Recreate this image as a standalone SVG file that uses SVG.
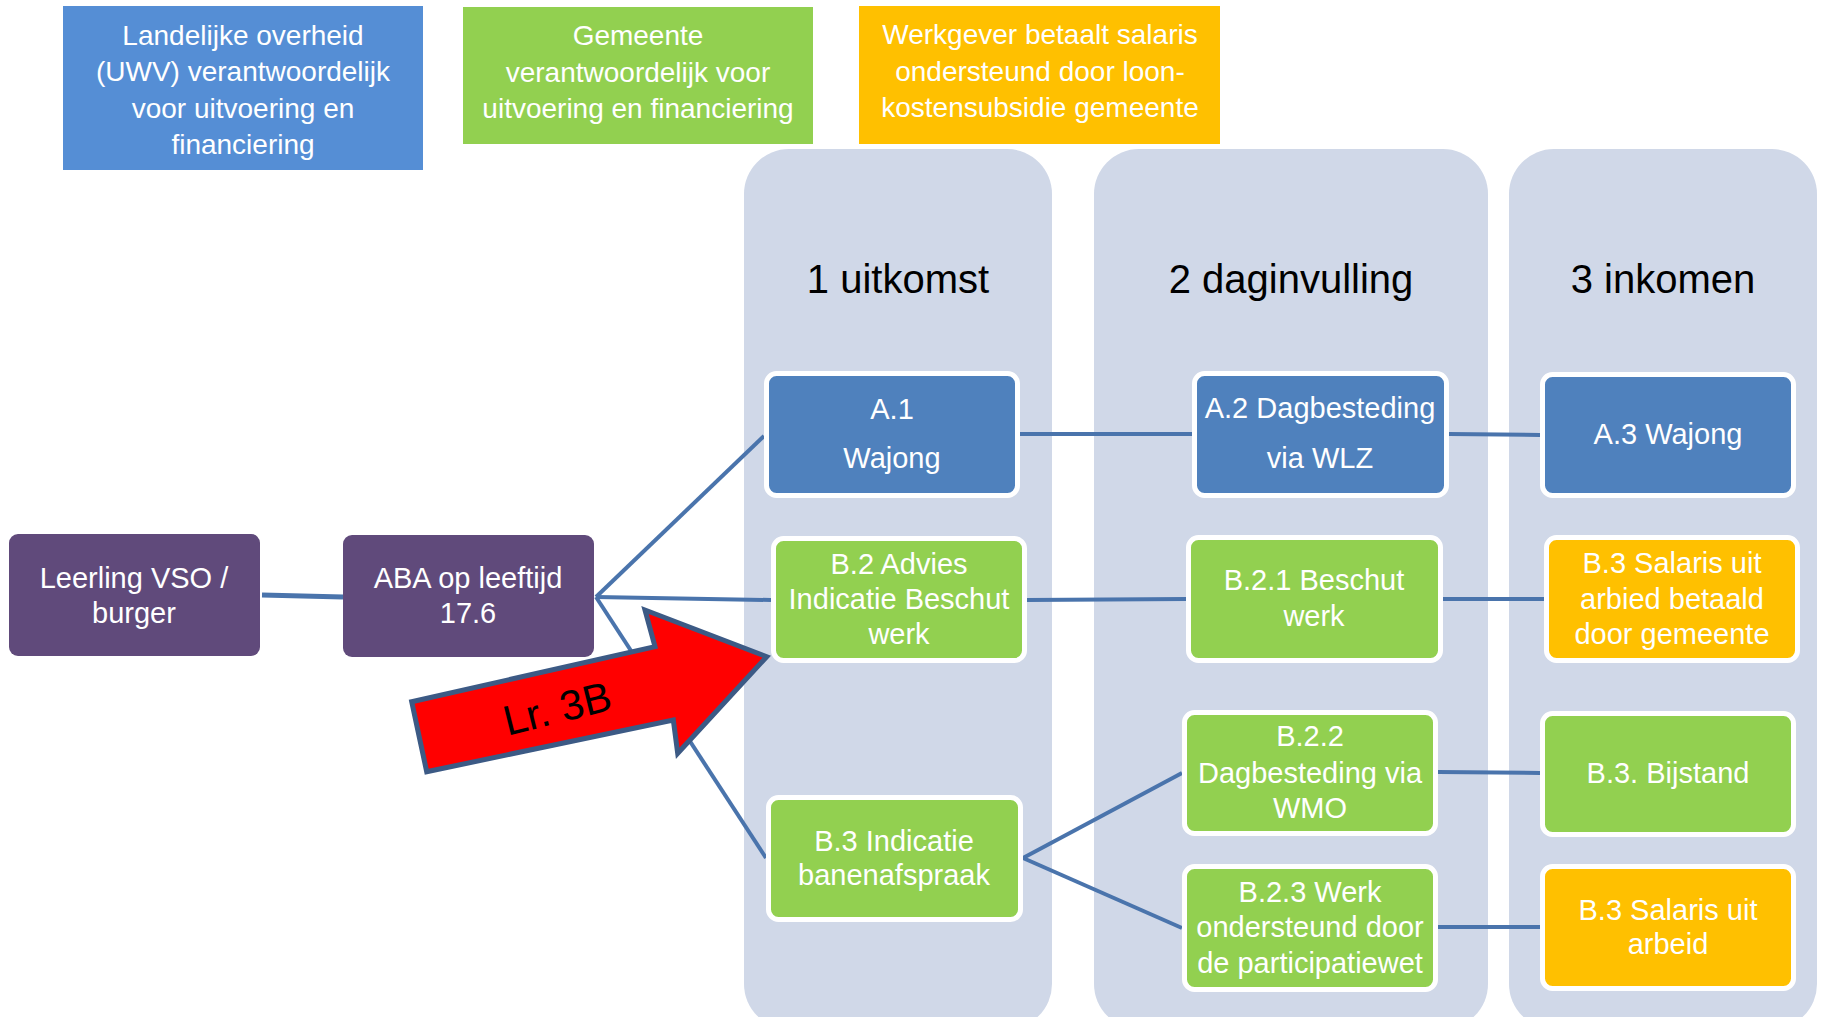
<svg xmlns="http://www.w3.org/2000/svg" width="1823" height="1017" viewBox="0 0 1823 1017">
<style>
text{font-family:"Liberation Sans",Arial,sans-serif;text-anchor:middle}
.lg{font-size:28px;fill:#fff}
.nt{font-size:29px;fill:#fff}
.hd{font-size:40px;fill:#000}
.lane{fill:#D0D8E8}
.blue{fill:#4F81BD;stroke:#fff;stroke-width:5}
.green{fill:#92D050;stroke:#fff;stroke-width:5}
.orange{fill:#FFC000;stroke:#fff;stroke-width:5}
.purple{fill:#604A7B}
.con line{stroke:#4A74AC;stroke-width:4;fill:none}
</style>
<rect width="1823" height="1017" fill="#fff"/>
<g id="legend-uwv"><rect x="63" y="6" width="360" height="164" fill="#558ED5"/>
<text class="lg" x="243" y="45">Landelijke overheid</text><text class="lg" x="243" y="81">(UWV) verantwoordelijk</text><text class="lg" x="243" y="118">voor uitvoering en</text><text class="lg" x="243" y="154">financiering</text></g>
<g id="legend-gemeente"><rect x="463" y="7" width="350" height="137" fill="#92D050"/>
<text class="lg" x="638" y="45">Gemeente</text><text class="lg" x="638" y="82">verantwoordelijk voor</text><text class="lg" x="638" y="118">uitvoering en financiering</text></g>
<g id="legend-werkgever"><rect x="859" y="6" width="361" height="138" fill="#FFC000"/>
<text class="lg" x="1040" y="44">Werkgever betaalt salaris</text><text class="lg" x="1040" y="81">ondersteund door loon-</text><text class="lg" x="1040" y="117">kostensubsidie gemeente</text></g>
<g id="lane-1"><rect class="lane" x="744" y="149" width="308" height="880" rx="45"/><text class="hd" x="898" y="293">1 uitkomst</text></g>
<g id="lane-2"><rect class="lane" x="1094" y="149" width="394" height="880" rx="45"/><text class="hd" x="1291" y="293">2 daginvulling</text></g>
<g id="lane-3"><rect class="lane" x="1509" y="149" width="308" height="880" rx="45"/><text class="hd" x="1663" y="293">3 inkomen</text></g>
<g id="connectors" class="con">
<line x1="262" y1="595" x2="343" y2="597" style="stroke-width:5"/>
<line x1="596" y1="597" x2="764" y2="436"/>
<line x1="596" y1="597" x2="771" y2="600"/>
<line x1="596" y1="597" x2="766" y2="858"/>
<line x1="1020" y1="434" x2="1192" y2="434"/>
<line x1="1449" y1="434" x2="1540" y2="435"/>
<line x1="1027" y1="600" x2="1186" y2="599"/>
<line x1="1443" y1="599" x2="1544" y2="599"/>
<line x1="1023" y1="858" x2="1182" y2="773"/>
<line x1="1023" y1="858" x2="1182" y2="928"/>
<line x1="1438" y1="772" x2="1540" y2="773"/>
<line x1="1438" y1="927" x2="1540" y2="927"/>
</g>
<g id="leerling"><rect class="purple" x="9" y="534" width="251" height="122" rx="9"/><text class="nt" x="134" y="588">Leerling VSO /</text><text class="nt" x="134" y="623">burger</text></g>
<g id="aba"><rect class="purple" x="343" y="535" width="251" height="122" rx="9"/><text class="nt" x="468" y="588">ABA op leeftijd</text><text class="nt" x="468" y="623">17.6</text></g>
<g id="a1"><rect class="blue" x="766.5" y="373.5" width="251" height="122" rx="10"/><text class="nt" x="892" y="419">A.1</text><text class="nt" x="892" y="468">Wajong</text></g>
<g id="a2"><rect class="blue" x="1194.5" y="373.5" width="252" height="122" rx="10"/><text class="nt" x="1320" y="418">A.2 Dagbesteding</text><text class="nt" x="1320" y="468">via WLZ</text></g>
<g id="a3"><rect class="blue" x="1542.5" y="374.5" width="251" height="121" rx="10"/><text class="nt" x="1668" y="444">A.3 Wajong</text></g>
<g id="b2"><rect class="green" x="773.5" y="538.5" width="251" height="122" rx="10"/><text class="nt" x="899" y="574">B.2 Advies</text><text class="nt" x="899" y="609">Indicatie Beschut</text><text class="nt" x="899" y="644">werk</text></g>
<g id="b21"><rect class="green" x="1188.5" y="537.5" width="252" height="123" rx="10"/><text class="nt" x="1314" y="590">B.2.1 Beschut</text><text class="nt" x="1314" y="626">werk</text></g>
<g id="b3-gemeente"><rect class="orange" x="1546.5" y="537.5" width="251" height="123" rx="10"/><text class="nt" x="1672" y="573">B.3 Salaris uit</text><text class="nt" x="1672" y="609">arbied betaald</text><text class="nt" x="1672" y="644">door gemeente</text></g>
<g id="b22"><rect class="green" x="1184.5" y="712.5" width="251" height="121" rx="10"/><text class="nt" x="1310" y="746">B.2.2</text><text class="nt" x="1310" y="783">Dagbesteding via</text><text class="nt" x="1310" y="818">WMO</text></g>
<g id="b3-bijstand"><rect class="green" x="1542.5" y="713.5" width="251" height="121" rx="10"/><text class="nt" x="1668" y="783">B.3. Bijstand</text></g>
<g id="b3-indicatie"><rect class="green" x="768.5" y="797.5" width="252" height="122" rx="10"/><text class="nt" x="894" y="851">B.3 Indicatie</text><text class="nt" x="894" y="885">banenafspraak</text></g>
<g id="b23"><rect class="green" x="1184.5" y="866.5" width="251" height="123" rx="10"/><text class="nt" x="1310" y="902">B.2.3 Werk</text><text class="nt" x="1310" y="937">ondersteund door</text><text class="nt" x="1310" y="973">de participatiewet</text></g>
<g id="b3-arbeid"><rect class="orange" x="1542.5" y="866.5" width="251" height="122" rx="10"/><text class="nt" x="1668" y="920">B.3 Salaris uit</text><text class="nt" x="1668" y="954">arbeid</text></g>
<g id="arrow-lr3b"><polygon points="411.7,701.7 655,646.7 645,610 766.7,656.7 677.7,753.3 673.3,720 426.7,771.7" fill="#FF0000" stroke="#3C5A85" stroke-width="5" stroke-linejoin="miter"/>
<text transform="translate(557,708) rotate(-14)" y="15" style="font-size:42px;fill:#000">Lr. 3B</text></g>
</svg>
